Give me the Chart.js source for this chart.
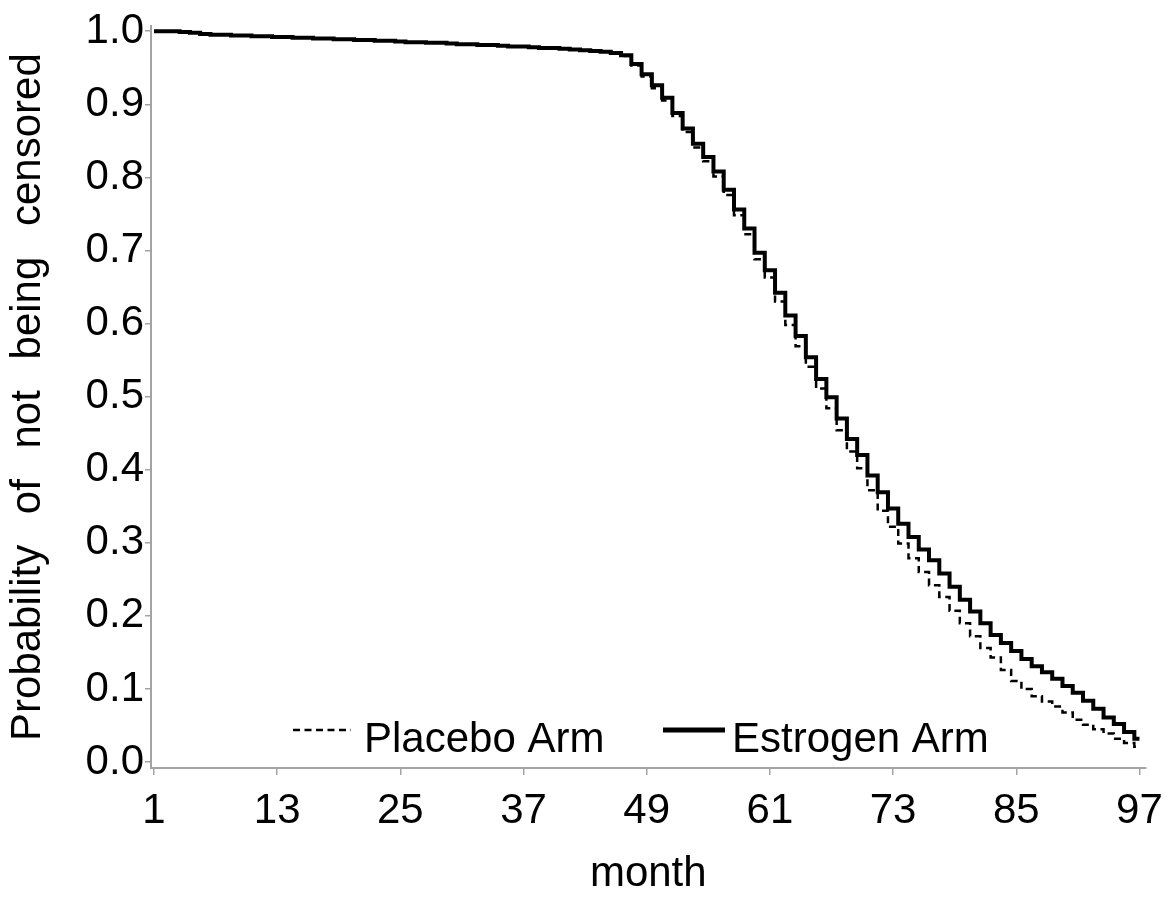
<!DOCTYPE html>
<html>
<head>
<meta charset="utf-8">
<script src="https://cdn.jsdelivr.net/npm/chart.js@4.4.1/dist/chart.umd.min.js"></script>
<style>
  html, body { margin: 0; padding: 0; background: #ffffff; }
  #wrap { width: 1174px; height: 900px; position: relative; }
</style>
</head>
<body>
<div id="wrap"><canvas id="c" width="1174" height="900"></canvas></div>
<script>
const months = [1,2,3,4,5,6,7,8,9,10,11,12,13,14,15,16,17,18,19,20,21,22,23,24,25,26,27,28,29,30,31,32,33,34,35,36,37,38,39,40,41,42,43,44,45,46,47,48,49,50,51,52,53,54,55,56,57,58,59,60,61,62,63,64,65,66,67,68,69,70,71,72,73,74,75,76,77,78,79,80,81,82,83,84,85,86,87,88,89,90,91,92,93,94,95,96,97];

const estrogen = [1.000,1.000,1.000,0.999,0.998,0.996,0.995,0.995,0.994,0.994,
0.993,0.993,0.992,0.992,0.991,0.991,0.990,0.990,0.989,0.989,
0.988,0.988,0.987,0.987,0.986,0.985,0.985,0.984,0.984,0.983,
0.982,0.982,0.981,0.981,0.980,0.979,0.979,0.978,0.977,0.977,
0.976,0.975,0.974,0.973,0.972,0.970,0.967,0.955,0.941,0.926,
0.909,0.888,0.867,0.846,0.828,0.808,0.783,0.756,0.730,0.697,
0.673,0.642,0.611,0.583,0.554,0.524,0.499,0.470,0.442,0.420,
0.392,0.369,0.347,0.326,0.308,0.291,0.276,0.258,0.240,0.222,
0.206,0.190,0.174,0.163,0.152,0.141,0.131,0.123,0.114,0.104,
0.095,0.084,0.073,0.061,0.052,0.041,0.032];

const placebo = [1.000,1.000,1.000,0.999,0.998,0.996,0.995,0.995,0.994,0.994,
0.993,0.993,0.992,0.992,0.991,0.991,0.990,0.990,0.989,0.989,
0.988,0.988,0.987,0.987,0.986,0.985,0.985,0.984,0.984,0.983,
0.982,0.982,0.981,0.981,0.980,0.979,0.979,0.978,0.977,0.977,
0.976,0.975,0.974,0.973,0.972,0.970,0.966,0.953,0.938,0.922,
0.905,0.884,0.862,0.841,0.822,0.801,0.776,0.748,0.722,0.688,
0.663,0.630,0.598,0.569,0.541,0.511,0.484,0.454,0.425,0.402,
0.372,0.344,0.322,0.299,0.279,0.260,0.242,0.226,0.207,0.190,
0.172,0.156,0.143,0.126,0.111,0.100,0.090,0.083,0.076,0.068,
0.058,0.051,0.045,0.039,0.032,0.026,0.021];

const xTicks = [1,13,25,37,49,61,73,85,97];
const yTicks = [0,0.1,0.2,0.3,0.4,0.5,0.6,0.7,0.8,0.9,1.0];
const seriesNames = ['Placebo Arm', 'Estrogen Arm'];
const xTitle = 'month';
const yTitle = 'Probability of not being censored';

const FONT = '"Liberation Sans", Arial, Helvetica, sans-serif';
const FS = 42;
const AXIS_GRAY = '#a3a3a3';

function toPts(ys) { return months.map((m, i) => ({ x: m, y: ys[i] })); }

// wide word gaps of the original graphic (only the y title has spaces among scale texts)
const spacingPlugin = {
  id: 'wordSpacing',
  beforeDraw(chart) { chart.ctx.wordSpacing = '19px'; },
  afterDraw(chart) { chart.ctx.wordSpacing = '0px'; }
};

const legendPlugin = {
  id: 'inlineLegend',
  afterDatasetsDraw(chart) {
    const ctx = chart.ctx;
    const ca = chart.chartArea;
    ctx.save();
    ctx.wordSpacing = '0px';
    ctx.font = FS + 'px ' + FONT;
    ctx.fillStyle = '#000';
    ctx.textBaseline = 'alphabetic';
    ctx.textAlign = 'left';
    const lineY = ca.bottom - 38;
    const baseY = ca.bottom - 16;
    ctx.strokeStyle = '#000';
    ctx.lineWidth = 2.5;
    ctx.setLineDash([7, 4.5]);
    ctx.beginPath(); ctx.moveTo(ca.left + 142, lineY); ctx.lineTo(ca.left + 200, lineY); ctx.stroke();
    ctx.fillText(seriesNames[0], ca.left + 213, baseY);
    ctx.setLineDash([]);
    ctx.lineWidth = 5;
    ctx.beginPath(); ctx.moveTo(ca.left + 512, lineY); ctx.lineTo(ca.left + 574, lineY); ctx.stroke();
    ctx.fillText(seriesNames[1], ca.left + 581, baseY);
    ctx.restore();
  }
};

new Chart(document.getElementById('c'), {
  type: 'line',
  data: {
    datasets: [
      {
        label: seriesNames[0],
        data: toPts(placebo),
        borderColor: '#000',
        borderWidth: 2.5,
        borderDash: [7, 4.5],
        pointRadius: 0,
        stepped: 'middle',
        fill: false,
        order: 1
      },
      {
        label: seriesNames[1],
        data: toPts(estrogen),
        borderColor: '#000',
        borderWidth: 4,
        pointRadius: 0,
        stepped: 'middle',
        fill: false,
        order: 0
      }
    ]
  },
  options: {
    responsive: false,
    animation: false,
    layout: { padding: { left: 0, right: 28, top: 20, bottom: 0 } },
    plugins: {
      legend: { display: false },
      tooltip: { enabled: false }
    },
    scales: {
      x: {
        type: 'linear',
        min: 0.71,
        max: 97.59,
        afterBuildTicks: (s) => { s.ticks = xTicks.map(v => ({ value: v })); },
        afterFit: (s) => { s.height = 132; },
        ticks: {
          color: '#000',
          font: { family: FONT, size: FS },
          padding: 11,
          maxRotation: 0,
          autoSkip: false,
          callback: (v) => String(v)
        },
        grid: { drawOnChartArea: false, drawTicks: true, tickLength: 7, color: AXIS_GRAY, lineWidth: 1.5 },
        border: { display: true, color: AXIS_GRAY, width: 2 },
        title: {
          display: true,
          text: xTitle,
          color: '#000',
          font: { family: FONT, size: FS },
          padding: { top: 0, bottom: 0 }
        }
      },
      y: {
        type: 'linear',
        min: -0.0081,
        max: 1.0068,
        afterBuildTicks: (s) => { s.ticks = yTicks.map(v => ({ value: v })); },
        afterFit: (s) => { s.width = 151; },
        ticks: {
          color: '#000',
          font: { family: FONT, size: FS },
          padding: 1,
          autoSkip: false,
          callback: (v) => v.toFixed(1)
        },
        grid: { drawOnChartArea: false, drawTicks: true, tickLength: 6, color: AXIS_GRAY, lineWidth: 1.5 },
        border: { display: true, color: AXIS_GRAY, width: 2 },
        title: {
          display: true,
          text: yTitle,
          color: '#000',
          font: { family: FONT, size: FS },
          padding: { top: 3, bottom: 0 }
        }
      }
    }
  },
  plugins: [spacingPlugin, legendPlugin]
});
</script>
</body>
</html>
